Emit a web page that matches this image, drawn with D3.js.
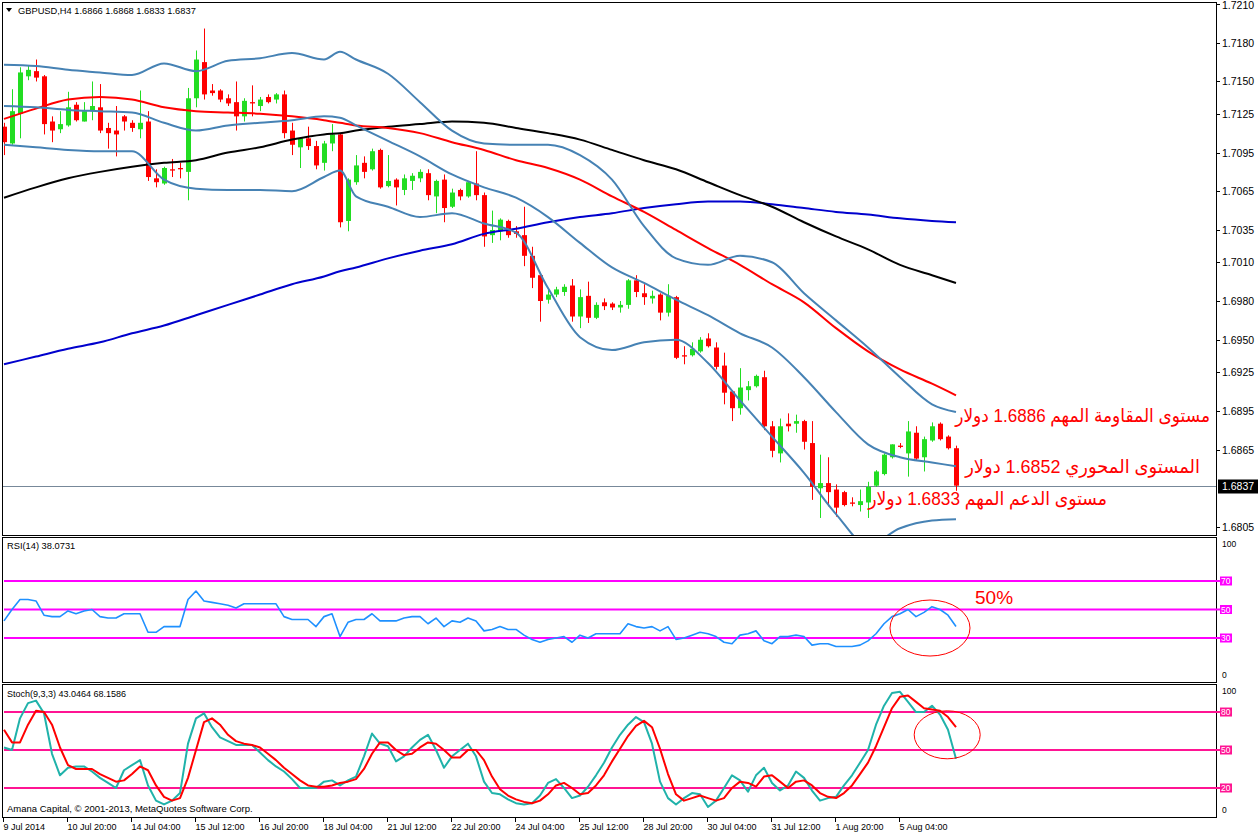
<!DOCTYPE html>
<html><head><meta charset="utf-8">
<script src="https://cdn.jsdelivr.net/npm/d3@7"></script>
<style>
body{margin:0;background:#fff;}
svg{display:block;}
text{font-family:"Liberation Sans",Arial,"DejaVu Sans",sans-serif;}
</style>
</head><body>
<svg id="c" width="1258" height="835"></svg>
<script>
// ---------------- DATA ----------------
const symbol = "GBPUSD,H4";
const ohlcHeader = [1.6866, 1.6868, 1.6833, 1.6837];
const opens = [1.7115,1.7102,1.7125,1.7154,1.7158,1.7154,1.7119,1.7113,1.7116,1.7132,
1.7119,1.7127,1.7130,1.7114,1.7112,1.7123,1.7118,1.7113,1.7119,1.7075,
1.7071,1.7082,1.7083,1.7080,1.7137,1.7165,1.7143,1.7143,1.7137,1.7134,
1.7123,1.7134,1.7131,1.7138,1.7136,1.7140,1.7112,1.7099,1.7106,1.7100,
1.7087,1.7102,1.7109,1.7042,1.7072,1.7087,1.7082,1.7097,1.7069,1.7074,
1.7066,1.7073,1.7075,1.7079,1.7061,1.7074,1.7053,1.7066,1.7061,1.7071,
1.7062,1.7031,1.7034,1.7042,1.7034,1.7031,1.7015,1.7000,1.6981,1.6985,
1.6987,1.6992,1.6968,1.6984,1.6967,1.6979,1.6978,1.6975,1.6977,1.6996,
1.6986,1.6982,1.6985,1.6971,1.6983,1.6938,1.6938,1.6941,1.6951,1.6944,
1.6930,1.6910,1.6897,1.6911,1.6914,1.6921,1.6883,1.6862,1.6885,1.6885,
1.6887,1.6870,1.6835,1.6839,1.6834,1.6832,1.6824,1.6822,1.6824,1.6837,
1.6846,1.6859,1.6868,1.6862,1.6878,1.6859,1.6872,1.6885,1.6875,1.6866];
const highs = [1.7118,1.7144,1.7161,1.7162,1.7167,1.7155,1.7123,1.7127,1.7142,1.7134,
1.7134,1.7150,1.7148,1.7118,1.7131,1.7124,1.7120,1.7143,1.7127,1.7082,
1.7084,1.7090,1.7087,1.7145,1.7174,1.7191,1.7148,1.7144,1.7140,1.7150,
1.7137,1.7147,1.7138,1.7140,1.7141,1.7143,1.7118,1.7107,1.7115,1.7104,
1.7104,1.7117,1.7110,1.7075,1.7093,1.7092,1.7098,1.7098,1.7093,1.7075,
1.7078,1.7079,1.7082,1.7082,1.7074,1.7078,1.7067,1.7067,1.7073,1.7096,
1.7064,1.7050,1.7044,1.7043,1.7038,1.7053,1.7022,1.7001,1.6989,1.6991,
1.6993,1.6997,1.6989,1.6995,1.6979,1.6982,1.6979,1.6980,1.6997,1.7000,
1.6993,1.6988,1.6986,1.6993,1.6984,1.6945,1.6948,1.6952,1.6955,1.6948,
1.6940,1.6911,1.6928,1.6918,1.6923,1.6926,1.6887,1.6889,1.6893,1.6892,
1.6888,1.6887,1.6861,1.6859,1.6838,1.6833,1.6828,1.6834,1.6840,1.6849,
1.6862,1.6869,1.6870,1.6887,1.6883,1.6875,1.6886,1.6886,1.6876,1.6868];
const lows = [1.7093,1.7101,1.7106,1.7151,1.7150,1.7109,1.7103,1.7110,1.7115,1.7119,
1.7119,1.7120,1.7110,1.7098,1.7092,1.7112,1.7111,1.7106,1.7073,1.7068,
1.7070,1.7076,1.7075,1.7058,1.7130,1.7136,1.7139,1.7134,1.7131,1.7112,
1.7119,1.7123,1.7127,1.7133,1.7133,1.7106,1.7093,1.7083,1.7097,1.7082,
1.7081,1.7096,1.7037,1.7034,1.7070,1.7075,1.7081,1.7067,1.7068,1.7054,
1.7062,1.7066,1.7072,1.7058,1.7048,1.7041,1.7052,1.7058,1.7060,1.7058,
1.7022,1.7025,1.7027,1.7029,1.7029,1.7007,1.6990,1.6964,1.6978,1.6983,
1.6984,1.6964,1.6959,1.6963,1.6966,1.6973,1.6973,1.6971,1.6974,1.6983,
1.6977,1.6978,1.6965,1.6968,1.6935,1.6931,1.6937,1.6940,1.6944,1.6927,
1.6900,1.6887,1.6892,1.6903,1.6913,1.6880,1.6859,1.6855,1.6879,1.6878,
1.6865,1.6826,1.6812,1.6821,1.6813,1.6821,1.6821,1.6817,1.6812,1.6836,
1.6845,1.6858,1.6866,1.6844,1.6857,1.6848,1.6871,1.6872,1.6865,1.6833];
const closes = [1.7103,1.7127,1.7157,1.7159,1.7153,1.7117,1.7112,1.7117,1.7130,1.7120,
1.7127,1.7131,1.7112,1.7110,1.7109,1.7119,1.7114,1.7118,1.7076,1.7072,
1.7083,1.7081,1.7082,1.7137,1.7167,1.7140,1.7141,1.7136,1.7133,1.7123,
1.7135,1.7133,1.7136,1.7134,1.7140,1.7110,1.7101,1.7106,1.7100,1.7085,
1.7102,1.7109,1.7041,1.7074,1.7085,1.7080,1.7096,1.7068,1.7073,1.7068,
1.7075,1.7077,1.7080,1.7062,1.7073,1.7052,1.7064,1.7061,1.7072,1.7062,
1.7030,1.7035,1.7043,1.7031,1.7032,1.7015,1.6998,1.6980,1.6985,1.6989,
1.6991,1.6968,1.6983,1.6967,1.6977,1.6976,1.6975,1.6977,1.6996,1.6987,
1.6983,1.6984,1.6971,1.6984,1.6936,1.6937,1.6943,1.6950,1.6945,1.6929,
1.6909,1.6897,1.6913,1.6914,1.6922,1.6883,1.6864,1.6883,1.6883,1.6887,
1.6871,1.6836,1.6839,1.6832,1.6820,1.6822,1.6823,1.6825,1.6836,1.6848,
1.6861,1.6869,1.6867,1.6879,1.6858,1.6873,1.6883,1.6873,1.6866,1.6837];

// indicator lines, read at these bar indices
const lineIdx = [0,4,8,12,16,20,24,28,32,36,40,42,44,48,52,56,60,64,68,72,76,80,84,88,92,96,100,104,108,112,116,119];
const bbUpper = [1.7163,1.7162,1.7159,1.7157,1.7155,1.7164,1.7158,1.7166,1.7168,1.7172,1.7167,1.7173,1.7167,1.7156,1.7134,1.7112,1.7102,1.7101,1.7101,1.7093,1.7074,1.7038,1.7013,1.7008,1.7015,1.7010,1.6986,1.6965,1.6944,1.6921,1.6900,1.6894];
const bbMiddle = [1.7131,1.7130,1.7128,1.7127,1.7126,1.7118,1.7112,1.7116,1.7118,1.7120,1.7123,1.7122,1.7116,1.7104,1.7092,1.7078,1.7068,1.7060,1.7045,1.7025,1.7006,1.6994,1.6981,1.6969,1.6955,1.6944,1.6921,1.6894,1.6869,1.6859,1.6855,1.6852];
const bbLower = [1.7101,1.7099,1.7097,1.7096,1.7096,1.7074,1.7067,1.7066,1.7066,1.7065,1.7076,1.7081,1.7061,1.7053,1.7045,1.7048,1.7040,1.7033,1.6990,1.6952,1.6942,1.6948,1.6950,1.6932,1.6903,1.6875,1.6847,1.6815,1.6791,1.6804,1.6810,1.6811];
const maRed = [1.7121,1.7129,1.7136,1.7138,1.7136,1.7130,1.7127,1.7126,1.7125,1.7123,1.7120,1.7118,1.7116,1.7114,1.7110,1.7103,1.7097,1.7089,1.7083,1.7074,1.7061,1.7049,1.7035,1.7021,1.7008,1.6993,1.6979,1.6959,1.6941,1.6927,1.6916,1.6907];
const maBlack = [1.7060,1.7068,1.7075,1.7080,1.7084,1.7087,1.7089,1.7095,1.7099,1.7105,1.7109,1.7110,1.7112,1.7115,1.7117,1.7119,1.7118,1.7114,1.7110,1.7105,1.7097,1.7089,1.7082,1.7072,1.7062,1.7053,1.7041,1.7030,1.7020,1.7008,1.7000,1.6994];
const maBlue = [1.6931,1.6937,1.6943,1.6948,1.6955,1.6961,1.6969,1.6977,1.6985,1.6993,1.6999,1.7003,1.7006,1.7013,1.7019,1.7024,1.7032,1.7036,1.7041,1.7045,1.7048,1.7052,1.7055,1.7057,1.7057,1.7055,1.7052,1.7049,1.7047,1.7044,1.7042,1.7041];

const rsi = [42,50,57,57,56,46,45,45,49,47, 49,50,45,44,44,47,47,47,34,34,
38,38,38,57,63,56,55,54,53,51, 54,54,54,54,54,45,43,43,43,38,
45,47,31,41,43,43,47,42,42,42, 44,45,45,40,44,38,42,41,44,42,
35,36,38,36,36,32,29,27,29,30, 31,27,32,30,33,33,33,33,40,38,
37,38,35,38,29,30,32,34,33,31, 27,26,32,33,35,28,26,31,31,32,
31,25,26,26,24,24,24,25,28,33, 40,45,47,50,45,48,52,50,46,38.0731];
const stochK = [52,50,75,87,89,79,47,30,36,37, 37,33,28,24,20,34,38,42,22,10,
7,10,16,55,75,79,68,60,57,54, 54,54,48,42,37,33,27,20,20,20,
25,26,22,26,29,45,63,55,53,41, 45,52,58,62,50,36,45,50,55,45,
25,16,15,11,8,7,8,14,24,27, 20,12,14,21,30,40,52,62,70,76,
72,55,25,12,7,12,16,15,5,10, 20,30,26,17,30,36,24,18,22,33,
28,18,10,12,13,22,30,40,50,70, 85,95,96,88,80,80,85,78,66,43.0464];
const stochD = [66,56,56,70,81,80,70,52,38,35, 35,35,31,28,25,26,31,37,34,22,
13,10,12,28,50,72,75,70,62,57, 55,54,52,47,42,36,31,26,22,21,
21,22,24,25,27,35,47,56,56,50, 46,47,52,56,55,50,44,44,50,50,
42,29,19,14,11,9,8,10,15,22, 24,20,15,16,22,30,41,51,61,69,
73,68,51,31,15,10,12,14,12,10, 12,20,25,24,21,29,30,25,20,25,
26,22,16,13,12,16,22,31,40,53, 68,83,92,93,88,83,82,81,76,68.1586];

const priceTicks = [1.7210,1.7180,1.7150,1.7125,1.7095,1.7065,1.7035,1.7010,1.6980,1.6950,1.6925,1.6895,1.6865,1.6805];
const lastPrice = 1.6837;
const rsiLevels = [70,50,30];
const stochLevels = [80,50,20];
const timeTickIdx = [0,8,16,24,32,40,48,56,64,72,80,88,96,104,112];
const timeLabels = ["9 Jul 2014","10 Jul 20:00","14 Jul 04:00","15 Jul 12:00","16 Jul 20:00","18 Jul 04:00","21 Jul 12:00","22 Jul 20:00","24 Jul 04:00","25 Jul 12:00","28 Jul 20:00","30 Jul 04:00","31 Jul 12:00","1 Aug 20:00","5 Aug 04:00"];
const notes = [
  {text:"مستوى المقاومة المهم 1.6886 دولار", price:1.6886},
  {text:"المستوى المحوري 1.6852 دولار", price:1.6852},
  {text:"مستوى الدعم المهم 1.6833 دولار", price:1.6833}
];

// ---------------- LAYOUT ----------------
const L = 2, R = 1216;
const P = {main:[2,535], rsi:[537,682], sto:[684,817]};
const xs = d3.scaleLinear().domain([0,119]).range([4,956]);
const yM = d3.scaleLinear().domain([1.6805,1.7210]).range([527,4]);
const yR = d3.scaleLinear().domain([0,100]).range([680.75,538.25]);
const yS = d3.scaleLinear().domain([0,100]).range([813.3,686.7]);

const svg = d3.select('#c');
const defs = svg.append('defs');
function clip(id, p){ defs.append('clipPath').attr('id',id).append('rect')
  .attr('x',L+1).attr('y',p[0]+1).attr('width',R-L-1).attr('height',p[1]-p[0]-1); }
clip('cm',P.main); clip('cr',P.rsi); clip('cs',P.sto);

// panel borders
Object.values(P).forEach(p=>{
  svg.append('rect').attr('x',L+0.5).attr('y',p[0]+0.5).attr('width',R-L).attr('height',p[1]-p[0])
    .attr('fill','none').attr('stroke','#000').attr('stroke-width',1);
});

// ---------- main panel ----------
const gm = svg.append('g').attr('clip-path','url(#cm)');
gm.append('line').attr('x1',L).attr('x2',R).attr('y1',Math.round(yM(lastPrice))+0.5).attr('y2',Math.round(yM(lastPrice))+0.5)
  .attr('stroke','#778899').attr('stroke-width',1);

const GREEN = '#22dd22', RED = '#ff0000';
const bars = d3.range(closes.length);
const cg = gm.append('g');
bars.forEach(i=>{
  const up = closes[i] >= opens[i];
  const col = up ? GREEN : RED;
  const cx = Math.round(xs(i));
  cg.append('line').attr('x1',cx+0.5).attr('x2',cx+0.5)
    .attr('y1',yM(highs[i])).attr('y2',yM(lows[i])).attr('stroke',col).attr('stroke-width',1);
  const y1 = yM(Math.max(opens[i],closes[i])), y2 = yM(Math.min(opens[i],closes[i]));
  cg.append('rect').attr('x',cx-2).attr('width',5).attr('y',y1).attr('height',Math.max(1.2,y2-y1)).attr('fill',col);
});

function drawLine(g, arr, yScale, color, w, idx, curve){
  const data = arr.map((v,k)=>[idx ? idx[k] : k, v]);
  g.append('path').datum(data)
    .attr('d', d3.line().x(d=>xs(d[0])).y(d=>yScale(d[1])).curve(curve || d3.curveLinear))
    .attr('fill','none').attr('stroke',color).attr('stroke-width',w).attr('stroke-linejoin','round');
}
const sm = d3.curveMonotoneX;
drawLine(gm, maBlue, yM, '#0000cd', 2, lineIdx, sm);
drawLine(gm, maBlack, yM, '#000000', 2, lineIdx, sm);
drawLine(gm, maRed, yM, '#ff0000', 2, lineIdx, sm);
drawLine(gm, bbUpper, yM, '#4682b4', 2, lineIdx, sm);
drawLine(gm, bbMiddle, yM, '#4682b4', 2, lineIdx, sm);
drawLine(gm, bbLower, yM, '#4682b4', 2, lineIdx, sm);

// header
svg.append('path').attr('d','M6,8 L12,8 L9,12 Z').attr('fill','#000');
svg.append('text').attr('x',18).attr('y',14).attr('font-size',9.3).attr('fill','#000')
  .text(symbol + "  " + ohlcHeader.map(v=>v.toFixed(4)).join(' '));

// price axis
const ga = svg.append('g');
priceTicks.forEach(v=>{
  const y = Math.round(yM(v))+0.5;
  ga.append('line').attr('x1',R).attr('x2',R+4).attr('y1',y).attr('y2',y).attr('stroke','#000');
  ga.append('text').attr('x',1222).attr('y',Math.max(y+3.5, 9)).attr('font-size',10.5).attr('fill','#000').text(v.toFixed(4));
});
{
  const y = Math.round(yM(lastPrice))+0.5;
  ga.append('rect').attr('x',1218).attr('y',y-7).attr('width',40).attr('height',14).attr('fill','#000');
  ga.append('text').attr('x',1222).attr('y',y+3.5).attr('font-size',10.5).attr('fill','#fff').text(lastPrice.toFixed(4));
}

// annotations
notes.forEach((n,k)=>{
  const off = [0, 7, 14][k];
  const rightX = [1210,1200,1107][k];
  const targetW = [255,235,239][k];
  const t = svg.append('text').attr('font-size',19).attr('fill','#ff0000').attr('text-anchor','end').text(n.text);
  const w = t.node().getComputedTextLength();
  const sx = w>0 ? targetW/w : 1;
  t.attr('transform',`translate(${rightX},${yM(n.price)+off}) scale(${sx},1)`);
});

// ---------- RSI panel ----------
const gr = svg.append('g').attr('clip-path','url(#cr)');
rsiLevels.forEach(v=>{
  gr.append('line').attr('x1',4).attr('x2',R).attr('y1',yR(v)).attr('y2',yR(v)).attr('stroke','#ff00ff').attr('stroke-width',2);
});
drawLine(gr, rsi, yR, '#1e90ff', 1.6);
svg.append('text').attr('x',7).attr('y',549).attr('font-size',9.3).text('RSI(14) ' + rsi[rsi.length-1].toFixed(4));
svg.append('text').attr('x',975).attr('y',604).attr('font-size',19).attr('fill','#ff0000').text('50%');
svg.append('ellipse').attr('cx',xs(115.75)).attr('cy',yR(37)).attr('rx',40).attr('ry',28)
  .attr('fill','none').attr('stroke','#ff0000').attr('stroke-width',1);

function levelAxis(scale, levels, color, top, bottom){
  svg.append('text').attr('x',1222).attr('y',top+10).attr('font-size',8.5).text('100');
  svg.append('text').attr('x',1222).attr('y',bottom-4).attr('font-size',8.5).text('0');
  levels.forEach(v=>{
    const y = scale(v);
    svg.append('line').attr('x1',R).attr('x2',R+4).attr('y1',y).attr('y2',y).attr('stroke',color).attr('stroke-width',2);
    svg.append('rect').attr('x',1220).attr('y',y-4.5).attr('width',12).attr('height',9).attr('fill',color);
    svg.append('text').attr('x',1221).attr('y',y+3).attr('font-size',8.5).attr('fill','#fff').text(v);
  });
}
levelAxis(yR, rsiLevels, '#ff00ff', P.rsi[0], P.rsi[1]);

// ---------- Stochastic panel ----------
const gs = svg.append('g').attr('clip-path','url(#cs)');
stochLevels.forEach(v=>{
  gs.append('line').attr('x1',4).attr('x2',R).attr('y1',yS(v)).attr('y2',yS(v)).attr('stroke','#ff1493').attr('stroke-width',2);
});
drawLine(gs, stochK, yS, '#20b2aa', 2);
drawLine(gs, stochD, yS, '#ff0000', 2);
svg.append('text').attr('x',7).attr('y',697).attr('font-size',9)
  .text('Stoch(9,3,3) ' + stochK[stochK.length-1].toFixed(4) + ' ' + stochD[stochD.length-1].toFixed(4));
svg.append('text').attr('x',7).attr('y',812).attr('font-size',9.5).text('Amana Capital, © 2001-2013, MetaQuotes Software Corp.');
svg.append('ellipse').attr('cx',xs(117.9)).attr('cy',yS(62)).attr('rx',33).attr('ry',24)
  .attr('fill','none').attr('stroke','#ff0000').attr('stroke-width',1);
levelAxis(yS, stochLevels, '#ff1493', P.sto[0], P.sto[1]);

// time axis
timeTickIdx.forEach((b,k)=>{
  const x = Math.round(xs(b))-0.5;
  svg.append('line').attr('x1',x).attr('x2',x).attr('y1',P.sto[1]).attr('y2',P.sto[1]+5).attr('stroke','#000');
  svg.append('text').attr('x',x).attr('y',830).attr('font-size',9).text(timeLabels[k]);
});
</script>
</body></html>
